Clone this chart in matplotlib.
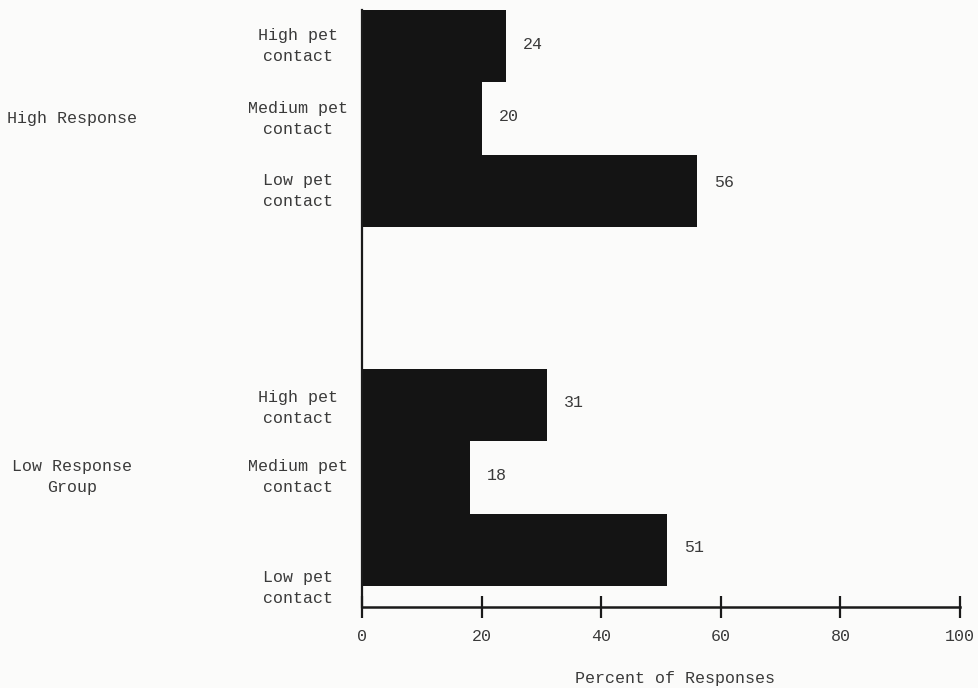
import matplotlib
matplotlib.use("Agg")
import matplotlib.pyplot as plt
import matplotlib.transforms as mtransforms

# ---- data ----
groups = ["High Response", "Low Response\nGroup"]
categories = ["High pet\ncontact", "Medium pet\ncontact", "Low pet\ncontact"]
high_response = [24, 20, 56]
low_response = [31, 18, 51]
xticks = [0, 20, 40, 60, 80, 100]
xlabel = "Percent of Responses"

plt.rcParams['font.family'] = ['Liberation Mono', 'DejaVu Sans Mono']
TXT = '#3a3a3a'
BG = '#fbfbfa'
BAR = '#141414'

fig = plt.figure(figsize=(9.79, 6.88), dpi=100, facecolor=BG)
ax = fig.add_axes([362/979, 1-607/688, (960-362)/979, (607-10)/688])
ax.set_facecolor(BG)

group_gap = 1.95
pos_high = [0, 1, 2]
pos_low = [3 + group_gap + i for i in range(3)]

ax.barh(pos_high, high_response, height=1.0, color=BAR, edgecolor='none')
ax.barh(pos_low, low_response, height=1.0, color=BAR, edgecolor='none')

ax.set_xlim(0, 100)
ax.set_ylim(pos_low[-1] + 0.5 + 0.29, -0.5)

for s in ['top', 'right']:
    ax.spines[s].set_visible(False)
ax.spines['left'].set_linewidth(1.6)
ax.spines['bottom'].set_linewidth(1.8)
ax.spines['left'].set_color('#1a1a1a')
ax.spines['bottom'].set_color('#1a1a1a')

ax.set_xticks(xticks)
ax.set_xticklabels([str(t) for t in xticks])
ax.tick_params(axis='x', direction='inout', length=16, width=1.6, color='#1a1a1a',
               pad=8, labelsize=12, labelcolor=TXT)
ax.set_yticks([])

# value labels (small layout nudges, in pixels; positive = up)
val_nudge = {(0, 2): 9}
for gi, (vals, pos) in enumerate([(high_response, pos_high), (low_response, pos_low)]):
    for ci, (v, p) in enumerate(zip(vals, pos)):
        dy = val_nudge.get((gi, ci), 2)
        ax.annotate(str(v), (v, p), xytext=(17, dy), textcoords='offset pixels',
                    ha='left', va='center', fontsize=12, color=TXT)

# category labels
cat_nudge = {(1, 2): -38, (1, 0): -3}
trans = mtransforms.blended_transform_factory(ax.transAxes, ax.transData)
for gi, pos in enumerate((pos_high, pos_low)):
    for ci, (cat, p) in enumerate(zip(categories, pos)):
        dy = cat_nudge.get((gi, ci), 0)
        t = ax.text(-0.107, p, cat, transform=trans, ha='center', va='center',
                    multialignment='center', fontsize=12, color=TXT, linespacing=1.5)
        if dy:
            t.set_transform(trans + mtransforms.ScaledTranslation(0, dy / 100, fig.dpi_scale_trans))

# group labels
for g, pos in zip(groups, (pos_high, pos_low)):
    ax.text(-0.485, pos[1], g, transform=trans, ha='center', va='center',
            multialignment='center', fontsize=12, color=TXT, linespacing=1.5)

fig.text(675/979, 1-678/688, xlabel, ha='center', va='center', fontsize=12, color=TXT)

fig.savefig("out.png", dpi=100, facecolor=BG)
